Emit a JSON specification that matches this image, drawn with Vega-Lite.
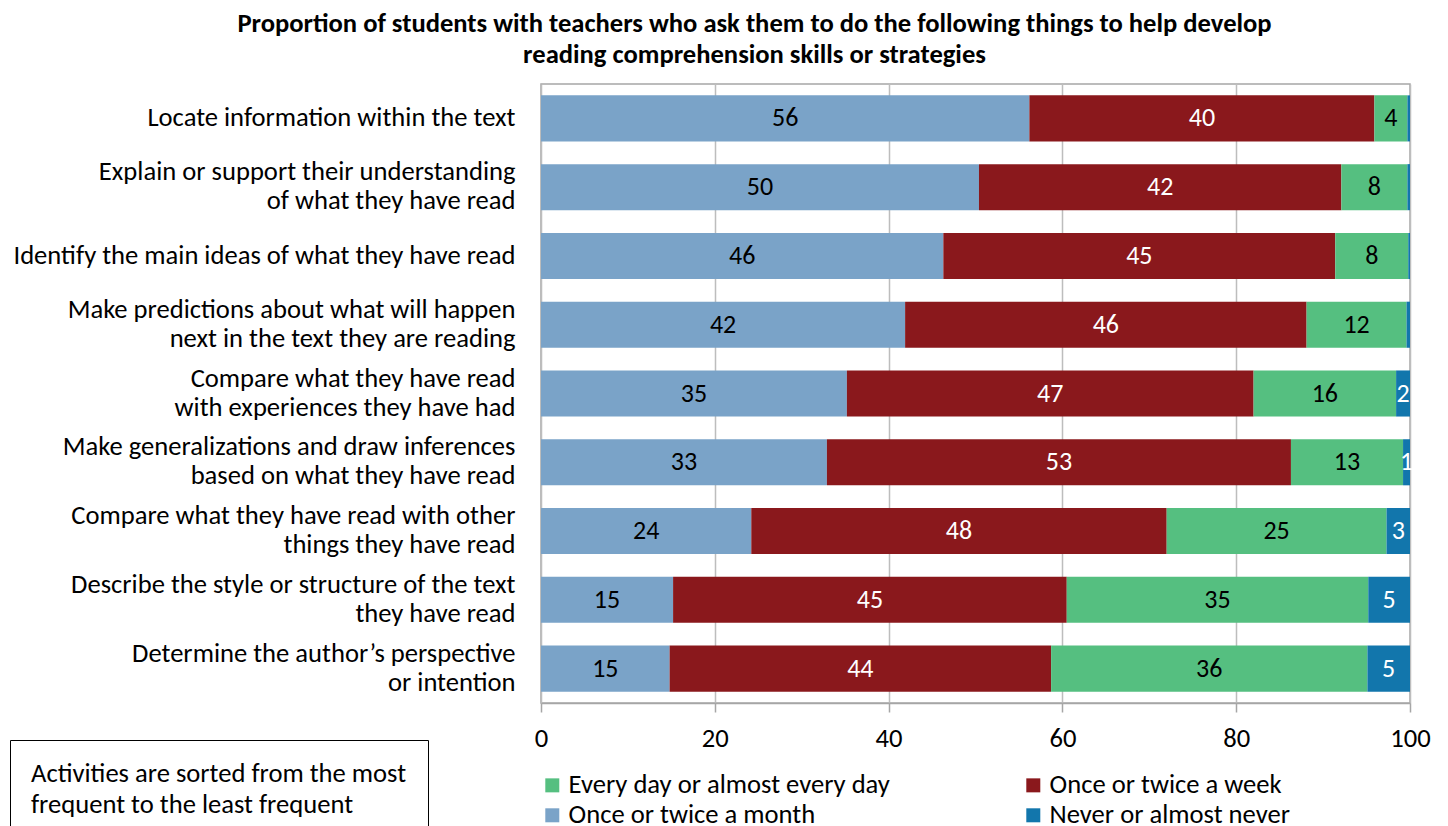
{
  "$schema": "https://vega.github.io/schema/vega-lite/v6.json",
  "width": 869,
  "height": 619,
  "autosize": {"type": "none"},
  "padding": {"left": 541, "top": 84, "right": 38, "bottom": 123},
  "background": "white",
  "title": {
    "text": ["Proportion of students with teachers who ask them to do the following things to help develop", "reading comprehension skills or strategies"],
    "anchor": "middle",
    "frame": "group",
    "dx": -221,
    "offset": 15,
    "fontSize": 26.6,
    "fontWeight": "bold",
    "lineHeight": 31,
    "color": "black"
  },
  "data": {
    "values": [
      {"activity": "Locate information within the text", "category": "Once or twice a month", "value": 56.2},
      {"activity": "Locate information within the text", "category": "Once or twice a week", "value": 39.7},
      {"activity": "Locate information within the text", "category": "Every day or almost every day", "value": 3.8},
      {"activity": "Locate information within the text", "category": "Never or almost never", "value": 0.3},
      {"activity": "Explain or support their understanding|of what they have read", "category": "Once or twice a month", "value": 50.4},
      {"activity": "Explain or support their understanding|of what they have read", "category": "Once or twice a week", "value": 41.7},
      {"activity": "Explain or support their understanding|of what they have read", "category": "Every day or almost every day", "value": 7.6},
      {"activity": "Explain or support their understanding|of what they have read", "category": "Never or almost never", "value": 0.3},
      {"activity": "Identify the main ideas of what they have read", "category": "Once or twice a month", "value": 46.3},
      {"activity": "Identify the main ideas of what they have read", "category": "Once or twice a week", "value": 45.1},
      {"activity": "Identify the main ideas of what they have read", "category": "Every day or almost every day", "value": 8.4},
      {"activity": "Identify the main ideas of what they have read", "category": "Never or almost never", "value": 0.2},
      {"activity": "Make predictions about what will happen|next in the text they are reading", "category": "Once or twice a month", "value": 41.9},
      {"activity": "Make predictions about what will happen|next in the text they are reading", "category": "Once or twice a week", "value": 46.2},
      {"activity": "Make predictions about what will happen|next in the text they are reading", "category": "Every day or almost every day", "value": 11.5},
      {"activity": "Make predictions about what will happen|next in the text they are reading", "category": "Never or almost never", "value": 0.4},
      {"activity": "Compare what they have read|with experiences they have had", "category": "Once or twice a month", "value": 35.2},
      {"activity": "Compare what they have read|with experiences they have had", "category": "Once or twice a week", "value": 46.8},
      {"activity": "Compare what they have read|with experiences they have had", "category": "Every day or almost every day", "value": 16.4},
      {"activity": "Compare what they have read|with experiences they have had", "category": "Never or almost never", "value": 1.6},
      {"activity": "Make generalizations and draw inferences|based on what they have read", "category": "Once or twice a month", "value": 32.9},
      {"activity": "Make generalizations and draw inferences|based on what they have read", "category": "Once or twice a week", "value": 53.4},
      {"activity": "Make generalizations and draw inferences|based on what they have read", "category": "Every day or almost every day", "value": 12.9},
      {"activity": "Make generalizations and draw inferences|based on what they have read", "category": "Never or almost never", "value": 0.8},
      {"activity": "Compare what they have read with other|things they have read", "category": "Once or twice a month", "value": 24.2},
      {"activity": "Compare what they have read with other|things they have read", "category": "Once or twice a week", "value": 47.8},
      {"activity": "Compare what they have read with other|things they have read", "category": "Every day or almost every day", "value": 25.3},
      {"activity": "Compare what they have read with other|things they have read", "category": "Never or almost never", "value": 2.7},
      {"activity": "Describe the style or structure of the text|they have read", "category": "Once or twice a month", "value": 15.2},
      {"activity": "Describe the style or structure of the text|they have read", "category": "Once or twice a week", "value": 45.3},
      {"activity": "Describe the style or structure of the text|they have read", "category": "Every day or almost every day", "value": 34.7},
      {"activity": "Describe the style or structure of the text|they have read", "category": "Never or almost never", "value": 4.8},
      {"activity": "Determine the author’s perspective|or intention", "category": "Once or twice a month", "value": 14.8},
      {"activity": "Determine the author’s perspective|or intention", "category": "Once or twice a week", "value": 43.9},
      {"activity": "Determine the author’s perspective|or intention", "category": "Every day or almost every day", "value": 36.4},
      {"activity": "Determine the author’s perspective|or intention", "category": "Never or almost never", "value": 4.9}
    ]
  },
  "transform": [
    {"calculate": "indexof(['Once or twice a month', 'Once or twice a week', 'Every day or almost every day', 'Never or almost never'], datum.category)", "as": "stackOrder"}
  ],
  "encoding": {
    "y": {
      "field": "activity",
      "type": "nominal",
      "sort": null,
      "title": null,
      "scale": {"paddingInner": 0.33, "paddingOuter": 0.165},
      "axis": {
        "labelExpr": "split(datum.label, '|')",
        "labelFontSize": 26.6,
        "labelLineHeight": 29,
        "labelPadding": 26,
        "labelColor": "black",
        "labelLimit": 700,
        "labelOffset": {"condition": {"test": "indexof(datum.value, '|') >= 0", "value": -15}, "value": 0},
        "ticks": false,
        "domain": false
      }
    },
    "order": {"field": "stackOrder", "type": "quantitative"}
  },
  "layer": [
    {
      "mark": {"type": "bar"},
      "encoding": {
        "x": {
          "field": "value",
          "type": "quantitative",
          "stack": "zero",
          "title": null,
          "scale": {"domain": [0, 100]},
          "axis": {
            "values": [0, 20, 40, 60, 80, 100],
            "grid": true,
            "gridColor": "#bdbdbd",
            "gridWidth": 1.5,
            "domainColor": "#a6a6a6",
            "domainWidth": 1.5,
            "tickColor": "#a6a6a6",
            "tickWidth": 1.5,
            "tickSize": 9,
            "labelFontSize": 26.6,
            "labelPadding": 13,
            "labelColor": "black",
            "labelFlush": false
          }
        },
        "color": {
          "field": "category",
          "type": "nominal",
          "scale": {
            "domain": ["Once or twice a month", "Once or twice a week", "Every day or almost every day", "Never or almost never"],
            "range": ["#7aa3c8", "#8a181c", "#55bf80", "#1276ac"]
          },
          "legend": {
            "orient": "none",
            "legendX": -2,
            "legendY": 688,
            "title": null,
            "columns": 2,
            "columnPadding": 130,
            "rowPadding": 3,
            "padding": 0,
            "symbolType": "square",
            "symbolSize": 196,
            "symbolStrokeWidth": 0,
            "labelFontSize": 26.6,
            "labelOffset": 3,
            "labelColor": "black",
            "labelLimit": 700,
            "values": ["Every day or almost every day", "Once or twice a month", "Once or twice a week", "Never or almost never"]
          }
        },
        "strokeDash": {
          "datum": "note",
          "legend": {
            "orient": "none",
            "legendX": -531,
            "legendY": 656,
            "title": ["Activities are sorted from the most", "frequent to the least frequent"],
            "titleFontWeight": "normal",
            "titleFontSize": 26.6,
            "titleLineHeight": 31,
            "titleLimit": 1000,
            "titleColor": "black",
            "titlePadding": 10,
            "strokeColor": "black",
            "padding": 21,
            "labelExpr": "''",
            "labelFontSize": 1,
            "symbolSize": 0,
            "symbolOpacity": 0,
            "encode": {
              "legend": {"update": {"strokeWidth": {"value": 2}}},
              "title": {"update": {"dy": {"value": -4}}}
            }
          }
        }
      }
    },
    {
      "transform": [{"filter": "datum.value >= 0.6"}],
      "mark": {"type": "text", "fontSize": 26},
      "encoding": {
        "x": {"field": "value", "type": "quantitative", "stack": "zero", "bandPosition": 0.5},
        "fill": {
          "condition": {"test": "datum.category === 'Once or twice a week' || datum.category === 'Never or almost never'", "value": "white"},
          "value": "black"
        },
        "text": {"field": "value", "type": "quantitative", "format": ".0f"}
      }
    }
  ],
  "config": {
    "font": "Carlito, Lato, sans-serif",
    "view": {"stroke": "#a6a6a6", "strokeWidth": 1.5}
  }
}
